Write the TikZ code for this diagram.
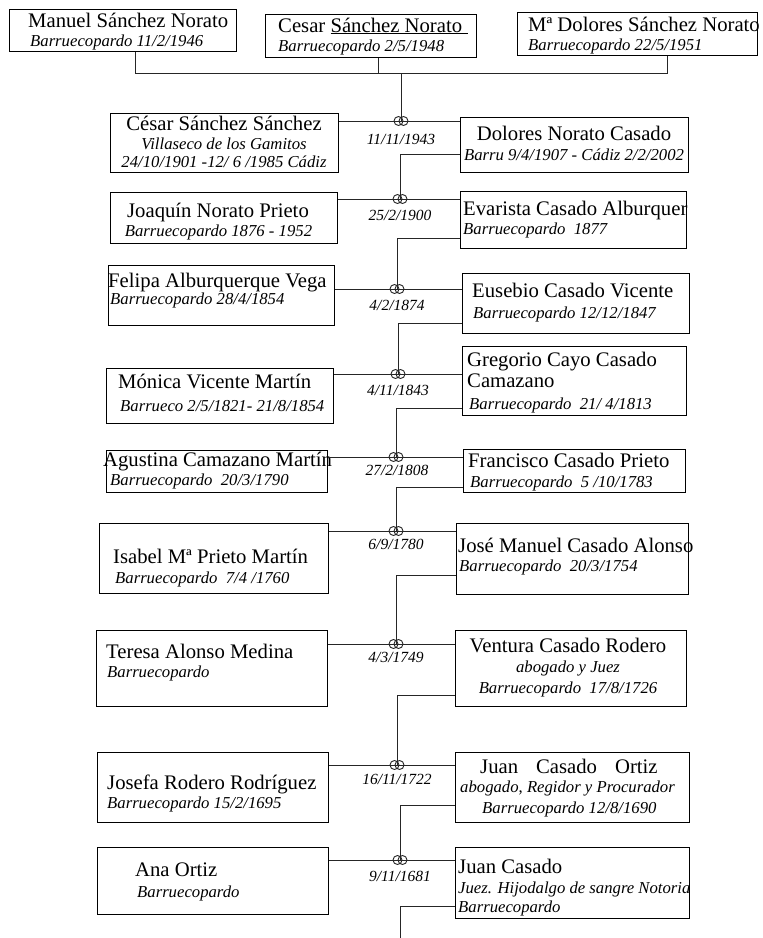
\documentclass[tikz,border=0pt]{standalone}
\usepackage{fontspec}
\setmainfont{Liberation Serif}
\begin{document}
\begin{tikzpicture}[x=1bp,y=-1bp,
  box/.style={draw=black, line width=0.9bp, inner sep=0, anchor=north west},
  nm/.style={inner sep=0, font=\fontsize{20.7bp}{24bp}\selectfont},
  it/.style={inner sep=0, font=\fontsize{16.7bp}{20bp}\selectfont\itshape},
  md/.style={inner sep=0, anchor=base, font=\fontsize{15.5bp}{18bp}\selectfont\itshape},
  ln/.style={line width=0.9bp, draw=black!85}]
\useasboundingbox (0,0) rectangle (763,938);
\newcommand\rings[1]{\draw[ln] ([xshift=-2.5bp]#1) circle[radius=4.5bp] ([xshift=2.5bp]#1) circle[radius=4.5bp];}
% ---------- top row
\node[box, minimum width=227bp, minimum height=42bp] (manuel) at (9,9) {};
\node[nm, anchor=base west] (t01) at (28,27) {Manuel Sánchez Norato};
\node[it, anchor=base west] (t02) at (30,46.5) {Barruecopardo 11/2/1946};
\node[box, minimum width=211bp, minimum height=43bp] (cesar) at (265,14) {};
\node[nm, anchor=base west] (t03) at (278,32) {Cesar \underline{Sánchez Norato\hphantom{i}}};
\node[it, anchor=base west] (t04) at (278,51) {Barruecopardo 2/5/1948};
\node[box, minimum width=240bp, minimum height=43bp] (mdol) at (517,12) {};
\node[nm, anchor=base west] (t05) at (528,31) {Mª Dolores Sánchez Norato};
\node[it, anchor=base west] (t06) at (528,50.5) {Barruecopardo 22/5/1951};
\coordinate (jm) at (135,73);
\coordinate (jc) at (378,73);
\coordinate (jd) at (667,73);
% ---------- marriage points
\coordinate (m1) at (401,121);
\coordinate (m2) at (400,199);
\coordinate (m3) at (397,289);
\coordinate (m4) at (398,374);
\coordinate (m5) at (396,457);
\coordinate (m6) at (396,531);
\coordinate (m7) at (396,644);
\coordinate (m8) at (397,765);
\coordinate (m9) at (400,860);
\coordinate (k1) at (400,154);
\coordinate (k2) at (397,238);
\coordinate (k3) at (398,323);
\coordinate (k4) at (396,408);
\coordinate (k5) at (396,487);
\coordinate (k6) at (396,575);
\coordinate (k7) at (397,695);
\coordinate (k8) at (400,805);
\coordinate (k9) at (400,906);
\coordinate (endc) at (400,938);
% ---------- row 1
\node[box, minimum width=228bp, minimum height=59bp] (cesars) at (110,113) {};
\node[nm, anchor=base] (t11) at (224,130) {César Sánchez Sánchez};
\node[it, anchor=base] (t12) at (224,149.5) {Villaseco de los Gamitos};
\node[it, anchor=base] (t13) at (224,167.5) {24/10/1901 -12/ 6 /1985 Cádiz};
\node[box, minimum width=228bp, minimum height=55bp] (dolores) at (460,117) {};
\node[nm, anchor=base] (t14) at (574,140) {Dolores Norato Casado};
\node[it, anchor=base] (t15) at (574,160.5) {Barru 9/4/1907 - Cádiz 2/2/2002};
\node[md] (d1) at (401,144) {11/11/1943};
% ---------- row 2
\node[box, minimum width=227bp, minimum height=51bp] (joaquin) at (110,192) {};
\node[nm, anchor=base] (t21) at (218,217) {Joaquín Norato Prieto};
\node[it, anchor=base] (t22) at (218.5,236.5) {Barruecopardo 1876 - 1952};
\node[box, minimum width=226bp, minimum height=57bp] (evarista) at (460,191) {};
\node[nm, anchor=base west] (t23) at (463,215) {Evarista Casado Alburquer};
\node[it, anchor=base west] (t24) at (463,234.5) {Barruecopardo\ \ 1877};
\node[md] (d2) at (400,220) {25/2/1900};
% ---------- row 3
\node[box, minimum width=226bp, minimum height=60bp] (felipa) at (108,265) {};
\node[nm, anchor=base west] (t31) at (108,287) {Felipa Alburquerque Vega};
\node[it, anchor=base west] (t32) at (110,304.5) {Barruecopardo 28/4/1854};
\node[box, minimum width=227bp, minimum height=60bp] (eusebio) at (462,273) {};
\node[nm, anchor=base west] (t33) at (472,297) {Eusebio Casado Vicente};
\node[it, anchor=base west] (t34) at (473,318.5) {Barruecopardo 12/12/1847};
\node[md] (d3) at (397,310) {4/2/1874};
% ---------- row 4
\node[box, minimum width=227bp, minimum height=55bp] (monica) at (106,368) {};
\node[nm, anchor=base west] (t41) at (118,388) {Mónica Vicente Martín};
\node[it, anchor=base west] (t42) at (120,411.5) {Barrueco 2/5/1821- 21/8/1854};
\node[box, minimum width=224bp, minimum height=69bp] (gregorio) at (462,346) {};
\node[nm, anchor=base west] (t43) at (467,366) {Gregorio Cayo Casado};
\node[nm, anchor=base west] (t44) at (467,387) {Camazano};
\node[it, anchor=base west] (t45) at (469,409.5) {Barruecopardo\ \ 21/ 4/1813};
\node[md] (d4) at (398,395) {4/11/1843};
% ---------- row 5
\node[box, minimum width=221bp, minimum height=42bp] (agustina) at (106,450) {};
\node[nm, anchor=base west] (t51) at (103,466) {Agustina Camazano Martín};
\node[it, anchor=base west] (t52) at (110,485) {Barruecopardo\ \ 20/3/1790};
\node[box, minimum width=222bp, minimum height=43bp] (francisco) at (463,449) {};
\node[nm, anchor=base west] (t53) at (468,467) {Francisco Casado Prieto};
\node[it, anchor=base west] (t54) at (470,487) {Barruecopardo\ \ 5 /10/1783};
\node[md] (d5) at (397,475) {27/2/1808};
% ---------- row 6
\node[box, minimum width=229bp, minimum height=70bp] (isabel) at (99,523) {};
\node[nm, anchor=base west] (t61) at (113,563) {Isabel Mª Prieto Martín};
\node[it, anchor=base west] (t62) at (115,583.5) {Barruecopardo\ \ 7/4 /1760};
\node[box, minimum width=232bp, minimum height=71bp] (josem) at (456,523) {};
\node[nm, anchor=base west] (t63) at (458,552) {José Manuel Casado Alonso};
\node[it, anchor=base west] (t64) at (459,571.5) {Barruecopardo\ \ 20/3/1754};
\node[md] (d6) at (396,549) {6/9/1780};
% ---------- row 7
\node[box, minimum width=231bp, minimum height=76bp] (teresa) at (96,630) {};
\node[nm, anchor=base west] (t71) at (106,658) {Teresa Alonso Medina};
\node[it, anchor=base west] (t72) at (107,677.5) {Barruecopardo};
\node[box, minimum width=231bp, minimum height=76bp] (ventura) at (455,630) {};
\node[nm, anchor=base] (t73) at (568,652) {Ventura Casado Rodero};
\node[it, anchor=base] (t74) at (568,672.5) {abogado y Juez};
\node[it, anchor=base] (t75) at (568,693.5) {Barruecopardo\ \ 17/8/1726};
\node[md] (d7) at (396,662) {4/3/1749};
% ---------- row 8
\node[box, minimum width=231bp, minimum height=70bp] (josefa) at (97,752) {};
\node[nm, anchor=base west] (t81) at (107,789) {Josefa Rodero Rodríguez};
\node[it, anchor=base west] (t82) at (107,808.5) {Barruecopardo 15/2/1695};
\node[box, minimum width=234bp, minimum height=70bp] (juanco) at (455,752) {};
\node[nm, anchor=base west] (t83) at (480,773) {Juan\hspace{18bp}Casado\hspace{18bp}Ortiz};
\node[it, anchor=base west] (t84) at (460,792.5) {abogado{\upshape ,} Regidor y Procurador};
\node[it, anchor=base west] (t85) at (482,813.5) {Barruecopardo 12/8/1690};
\node[md] (d8) at (397,784) {16/11/1722};
% ---------- row 9
\node[box, minimum width=231bp, minimum height=67bp] (ana) at (97,847) {};
\node[nm, anchor=base west] (t91) at (135,876) {Ana Ortiz};
\node[it, anchor=base west] (t92) at (137,897.5) {Barruecopardo};
\node[box, minimum width=234bp, minimum height=71bp] (juanca) at (455,847) {};
\node[nm, anchor=base west] (t93) at (458,873) {Juan Casado};
\node[it, anchor=base west] (t94) at (458,893.5) {Juez. Hijodalgo de sangre Notoria};
\node[it, anchor=base west] (t95) at (458,912.5) {Barruecopardo};
\node[md] (d9) at (400,881) {9/11/1681};
% ---------- connectors
\draw[ln] (manuel.south -| jm) -- (jm) -- (jd) -- (mdol.south -| jd);
\draw[ln] (cesar.south -| jc) -- (jc);
\draw[ln] (m1 |- jm) -- (m1);
\draw[ln] (m1 -| cesars.east) -- (m1 -| dolores.west);
\draw[ln] (dolores.west |- k1) -- (k1) -- (m2);
\draw[ln] (m2 -| joaquin.east) -- (m2 -| evarista.west);
\draw[ln] (evarista.west |- k2) -- (k2) -- (m3);
\draw[ln] (m3 -| felipa.east) -- (m3 -| eusebio.west);
\draw[ln] (eusebio.west |- k3) -- (k3) -- (m4);
\draw[ln] (m4 -| monica.east) -- (m4 -| gregorio.west);
\draw[ln] (gregorio.west |- k4) -- (k4) -- (m5);
\draw[ln] (m5 -| agustina.east) -- (m5 -| francisco.west);
\draw[ln] (francisco.west |- k5) -- (k5) -- (m6);
\draw[ln] (m6 -| isabel.east) -- (m6 -| josem.west);
\draw[ln] (josem.west |- k6) -- (k6) -- (m7);
\draw[ln] (m7 -| teresa.east) -- (m7 -| ventura.west);
\draw[ln] (ventura.west |- k7) -- (k7) -- (m8);
\draw[ln] (m8 -| josefa.east) -- (m8 -| juanco.west);
\draw[ln] (juanco.west |- k8) -- (k8) -- (m9);
\draw[ln] (m9 -| ana.east) -- (m9 -| juanca.west);
\draw[ln] (juanca.west |- k9) -- (k9) -- (endc);
\rings{m1}\rings{m2}\rings{m3}\rings{m4}\rings{m5}\rings{m6}\rings{m7}\rings{m8}\rings{m9}
\end{tikzpicture}
\end{document}
